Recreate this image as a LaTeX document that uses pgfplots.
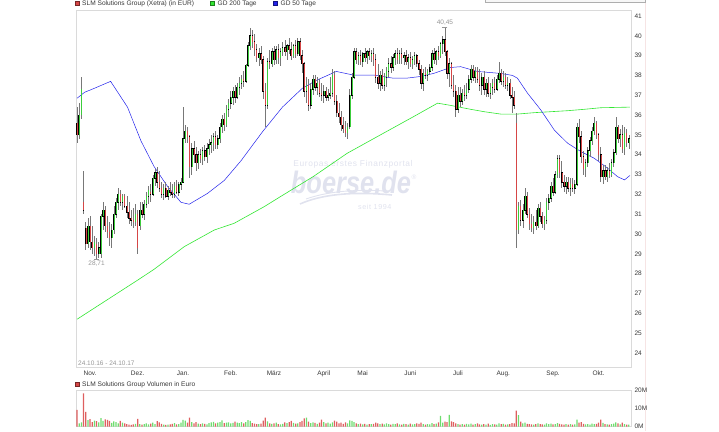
\documentclass[border=0pt]{standalone}
\usepackage{fontspec}
\setmainfont{Liberation Sans}
\usepackage{pgfplots}
\pgfplotsset{compat=1.18}
\usepackage{pgfplotstable}

\definecolor{candlegreen}{RGB}{60,205,60}
\definecolor{candlered}{RGB}{214,70,70}
\definecolor{wick}{RGB}{120,120,120}
\definecolor{gdgreen}{RGB}{50,230,50}
\definecolor{gdblue}{RGB}{35,35,235}
\definecolor{framegray}{RGB}{218,218,218}
\definecolor{ticktext}{RGB}{55,55,55}
\definecolor{softgray}{RGB}{150,150,150}
\definecolor{volgreen}{RGB}{110,220,110}
\definecolor{volred}{RGB}{222,95,95}
\definecolor{logo}{RGB}{224,226,238}
\definecolor{edgepink}{RGB}{246,228,228}

% daily OHLC (EUR) and turnover (million EUR), trading day index d
\pgfplotstableread{
d o h l c v
0 35.6 36.4 34.6 35.0 9.3
1 35.0 36.6 34.8 36.0 1.8
2 36.0 37.9 35.8 37.3 2.4
3 31.6 33.2 31.0 31.2 18.5
4 30.3 30.6 29.2 29.5 8.3
5 29.5 30.8 29.3 30.4 3.6
6 30.4 30.9 29.2 29.6 4.2
7 29.6 30.4 29.0 29.3 2.6
8 29.3 29.9 28.9 29.6 3.4
9 29.5 29.8 28.71 29.0 3.1
10 29.0 29.6 28.8 29.3 2.4
11 29.0 31.0 28.8 30.9 4.8
12 30.9 31.6 30.2 31.2 3.2
13 31.2 31.4 30.1 30.4 4.1
14 30.4 30.9 29.8 30.1 3.8
15 30.1 30.6 29.4 29.8 3.3
16 29.8 30.5 29.3 30.2 2.1
17 30.2 31.4 30.0 31.0 2.9
18 31.0 31.8 30.8 31.6 2.6
19 31.6 32.3 31.2 32.0 1.9
20 32.0 32.2 31.4 31.6 3.2
21 31.6 32.0 31.2 31.9 2.3
22 31.9 32.0 31.3 31.4 1.9
23 31.4 31.9 30.8 31.1 1.4
24 31.1 31.6 30.5 30.8 1.2
25 30.8 31.2 30.4 30.7 1.0
26 30.7 31.3 30.3 30.6 1.3
27 30.6 31.5 30.4 31.0 1.6
28 31.0 31.2 29.0 29.3 4.4
29 30.4 31.6 30.2 31.2 1.5
30 31.2 31.6 30.8 31.0 1.2
31 31.0 31.7 30.7 31.5 1.4
32 31.5 32.1 31.3 31.9 1.8
33 31.9 32.4 31.5 32.2 1.3
34 32.1 32.5 31.6 32.0 1.7
35 32.0 33.0 31.9 32.8 2.2
36 32.8 33.3 32.4 33.1 1.4
37 33.1 33.4 32.3 32.6 3.1
38 32.6 33.2 32.1 32.3 2.4
39 32.3 32.6 31.8 32.0 1.6
40 32.0 32.5 31.7 32.3 1.2
41 32.3 32.6 31.8 31.9 1.0
42 31.9 32.4 31.7 32.2 1.1
43 32.2 32.6 31.9 32.1 1.3
44 32.1 32.5 31.8 32.0 1.6
45 32.0 32.6 31.8 32.4 2.0
46 32.4 32.7 32.0 32.1 1.3
47 32.1 32.6 31.9 32.5 1.5
48 32.5 32.8 32.2 32.6 2.3
49 32.6 36.4 32.6 34.8 3.8
50 34.8 35.5 34.6 35.2 3.4
51 35.2 35.4 34.6 34.9 2.2
52 34.9 35.0 32.8 33.4 5.0
53 33.4 34.6 33.0 34.3 2.6
54 34.3 34.7 33.6 34.0 1.9
55 34.0 34.4 33.2 33.6 2.5
56 33.6 34.2 33.3 34.0 1.7
57 34.0 34.3 33.6 33.8 1.4
58 33.8 34.4 33.5 34.2 1.9
59 34.2 34.5 33.7 33.9 1.6
60 33.9 34.6 33.6 34.3 1.3
61 34.3 34.8 34.0 34.5 2.0
62 34.5 35.0 34.1 34.6 2.4
63 34.6 35.1 34.2 34.9 2.7
64 34.9 35.2 34.3 34.5 1.8
65 34.5 35.0 34.3 34.8 2.2
66 34.8 35.6 34.6 35.4 2.5
67 35.4 36.0 35.1 35.8 3.5
68 35.8 36.1 35.2 35.5 2.0
69 35.5 36.5 35.4 36.3 2.2
70 36.3 36.8 35.9 36.6 2.4
71 36.6 37.2 36.3 36.9 1.9
72 36.9 37.4 36.5 37.2 2.1
73 37.2 37.5 36.6 36.9 2.8
74 36.9 37.6 36.8 37.4 2.3
75 37.4 37.9 37.0 37.6 2.0
76 37.6 38.0 37.3 37.8 2.6
77 37.8 38.2 37.4 37.7 1.8
78 37.7 38.6 37.6 38.5 2.6
79 38.5 39.7 38.4 39.5 3.6
80 39.5 40.4 39.3 40.0 3.2
81 40.0 40.3 39.4 39.7 2.0
82 39.7 40.1 39.0 39.3 1.7
83 39.3 39.6 38.7 38.9 1.5
84 38.9 39.4 38.5 39.1 1.4
85 39.1 39.5 38.6 38.8 1.7
86 38.8 39.0 36.8 37.2 3.4
87 37.2 37.6 35.4 36.5 5.0
88 36.5 38.9 36.3 38.7 3.0
89 38.7 39.3 38.3 38.6 1.8
90 38.6 39.4 38.4 39.2 1.6
91 39.2 39.5 38.5 38.8 1.9
92 38.8 39.5 38.6 39.3 2.2
93 39.3 39.6 38.6 38.9 1.5
94 38.9 39.4 38.5 39.2 1.3
95 39.2 39.7 39.0 39.4 1.6
96 39.4 39.8 39.0 39.2 2.4
97 39.2 39.6 38.8 39.5 2.0
98 39.5 39.9 39.1 39.3 2.5
99 39.3 39.7 38.8 39.0 3.3
100 39.0 39.6 38.9 39.5 2.1
101 39.5 39.8 38.9 39.1 1.7
102 39.1 39.9 39.0 39.7 1.9
103 39.7 39.9 38.8 39.0 2.6
104 39.0 39.3 38.1 38.6 3.2
105 38.6 38.7 36.9 37.2 4.6
106 37.2 37.9 36.6 37.5 5.0
107 37.5 37.8 36.2 36.5 2.8
108 36.5 37.6 36.3 37.3 2.0
109 37.3 38.0 37.0 37.8 2.4
110 37.8 38.0 37.2 37.4 2.1
111 37.4 37.9 37.0 37.6 1.6
112 37.6 37.8 36.9 37.1 2.3
113 37.1 37.6 36.7 37.0 3.9
114 37.0 37.5 36.6 37.2 2.6
115 37.2 37.4 36.7 36.9 1.8
116 36.9 37.3 36.7 37.0 2.2
117 37.0 37.9 36.8 37.1 1.7
118 37.1 38.3 36.9 38.0 2.4
119 38.0 38.2 36.5 36.7 3.4
120 36.7 37.0 35.9 36.1 2.8
121 36.1 36.6 35.6 35.9 1.9
122 35.9 36.2 35.2 35.5 2.2
123 35.5 35.9 35.1 35.3 1.6
124 35.3 35.7 34.9 35.1 2.4
125 35.1 35.6 34.8 35.4 1.8
126 35.4 37.3 35.3 37.0 3.5
127 37.0 38.1 36.8 37.9 3.2
128 37.9 39.4 37.8 39.2 2.6
129 39.2 39.4 38.6 38.8 1.9
130 38.8 39.2 38.5 39.0 1.5
131 39.0 39.3 38.5 38.7 1.7
132 38.7 39.2 38.4 39.1 1.3
133 39.1 39.4 38.7 38.9 1.6
134 38.9 39.3 38.6 39.2 1.2
135 39.2 39.4 38.8 39.0 1.5
136 39.0 39.3 38.7 39.1 1.4
137 39.1 39.4 38.5 38.8 1.6
138 38.8 39.1 37.6 37.9 2.3
139 37.9 38.6 37.3 37.6 1.8
140 37.6 38.2 37.2 38.0 1.4
141 38.0 38.3 37.3 37.5 1.7
142 37.5 38.1 37.2 37.9 1.3
143 37.9 38.4 37.4 38.2 1.9
144 38.2 38.9 37.9 38.6 1.5
145 38.6 39.0 38.1 38.4 1.2
146 38.4 39.1 38.2 38.9 1.6
147 38.9 39.3 38.5 39.1 1.4
148 39.1 39.4 38.6 38.8 1.9
149 38.8 39.3 38.6 39.1 1.3
150 39.1 39.4 38.6 38.9 1.1
151 38.9 39.2 38.5 39.0 1.6
152 39.0 39.3 38.5 38.7 1.4
153 38.7 39.1 38.3 38.9 1.2
154 38.9 39.2 38.4 38.6 1.7
155 38.6 39.0 38.3 38.8 1.3
156 38.8 39.2 38.5 39.0 1.5
157 39.0 39.1 38.4 38.6 1.8
158 38.6 38.8 38.0 38.3 1.6
159 38.3 38.5 37.3 37.6 2.3
160 37.6 38.3 37.2 38.1 1.5
161 38.1 38.4 37.8 38.0 1.2
162 38.0 38.3 37.7 38.2 1.4
163 38.2 38.6 38.0 38.4 1.3
164 38.4 39.3 38.2 39.1 2.0
165 39.1 39.4 38.6 38.8 1.5
166 38.8 39.3 38.5 39.2 1.7
167 39.2 39.5 38.8 39.0 2.4
168 39.0 39.7 38.9 39.6 6.0
169 39.6 40.0 39.1 39.8 2.2
170 39.8 40.45 39.0 39.2 2.8
171 39.2 39.3 37.8 38.1 2.5
172 38.1 38.9 37.4 38.6 6.6
173 38.6 38.7 37.3 37.5 3.0
174 37.5 38.0 36.9 37.2 2.5
175 37.2 37.5 35.9 36.3 1.8
176 36.3 37.4 36.1 37.0 1.5
177 37.0 37.4 36.4 36.7 1.2
178 36.7 37.3 36.5 37.1 1.4
179 37.1 37.5 36.7 37.0 1.1
180 37.0 37.6 36.8 37.3 1.6
181 37.3 38.0 37.1 37.8 1.3
182 37.8 38.5 37.6 38.3 1.7
183 38.3 38.5 37.7 37.9 1.2
184 37.9 38.4 37.6 38.2 1.4
185 38.2 38.4 37.6 37.8 1.9
186 37.8 38.3 37.2 37.5 1.3
187 37.5 38.1 37.0 37.9 1.1
188 37.9 38.2 37.0 37.3 1.5
189 37.3 37.8 36.9 37.6 1.2
190 37.6 37.9 36.9 37.1 1.7
191 37.1 37.6 36.8 37.4 1.0
192 37.4 37.8 37.0 37.6 1.4
193 37.6 37.9 37.1 37.3 1.3
194 37.3 38.0 37.2 37.8 1.2
195 37.8 38.7 37.6 38.1 1.8
196 38.1 38.3 37.5 37.7 1.4
197 37.7 38.2 37.4 37.9 1.6
198 37.9 38.1 37.3 37.5 1.2
199 37.5 37.9 37.2 37.6 1.3
200 37.6 37.8 36.8 37.0 1.5
201 37.0 37.4 36.1 36.9 2.0
202 36.9 37.2 36.3 36.5 1.9
203 35.6 36.1 29.3 30.2 8.9
204 30.2 31.6 30.0 31.4 6.5
205 31.4 31.7 30.4 30.7 2.8
206 30.7 31.5 30.3 31.2 1.8
207 31.2 32.3 31.0 31.9 2.2
208 31.9 32.1 30.8 31.0 1.6
209 31.0 31.3 30.2 30.5 1.4
210 30.5 31.0 30.1 30.3 1.3
211 30.3 30.9 30.0 30.6 1.2
212 30.6 31.2 30.2 30.4 1.5
213 30.4 31.5 30.3 31.3 1.9
214 31.3 31.6 30.6 30.9 1.4
215 30.9 31.1 30.3 30.5 1.3
216 30.5 30.9 30.2 30.7 1.1
217 30.7 31.8 30.5 31.6 1.8
218 31.6 32.0 31.2 31.8 1.4
219 31.8 32.6 31.6 32.4 1.7
220 32.4 32.8 31.9 32.1 1.3
221 32.1 33.2 32.0 33.0 1.5
222 33.0 34.0 32.8 33.8 2.0
223 33.8 34.0 32.8 33.1 1.6
224 33.1 33.7 32.3 32.6 1.3
225 32.6 33.0 32.1 32.4 1.1
226 32.4 32.9 32.0 32.6 1.5
227 32.6 32.9 32.1 32.3 1.2
228 32.3 32.8 31.9 32.5 1.4
229 32.5 32.8 32.1 32.3 1.1
230 32.3 32.7 32.0 32.5 1.3
231 32.5 35.6 32.4 35.4 3.9
232 35.4 35.8 34.6 34.9 2.2
233 34.9 35.2 33.6 33.9 2.6
234 33.9 34.2 33.0 33.3 1.6
235 33.3 33.8 32.9 33.6 1.3
236 33.6 34.4 33.4 34.2 1.5
237 34.2 34.9 33.9 34.7 1.2
238 34.7 35.4 34.5 35.2 1.7
239 35.2 35.9 35.0 35.6 1.4
240 35.6 35.7 34.8 35.0 1.6
241 35.0 35.1 33.7 34.0 2.3
242 34.0 34.4 32.6 32.9 4.0
243 32.9 33.5 32.5 33.2 2.1
244 33.2 33.5 32.7 32.9 1.5
245 32.9 33.4 32.6 33.2 1.3
246 33.2 33.6 32.8 33.0 1.2
247 33.0 33.8 32.9 33.6 1.5
248 33.6 34.3 33.4 34.1 1.7
249 34.1 35.9 34.0 35.4 2.4
250 35.4 35.5 34.6 34.8 1.9
251 34.8 35.3 34.4 35.0 1.3
252 35.0 35.5 34.1 34.3 2.2
253 34.3 35.4 34.0 35.1 1.5
254 35.1 35.3 34.4 34.6 1.2
255 34.6 35.0 34.3 34.8 1.1
}\slm

% 200-day moving average
\pgfplotstableread{
d gd
0 25.70
28.1 27.68
35.6 28.22
49.5 29.36
63.4 30.20
72.6 30.54
86.5 31.38
93.9 31.88
109.2 32.90
124.8 34.07
140.2 35.00
155.5 35.92
166.6 36.60
172.0 36.50
181.9 36.29
188.1 36.17
195.8 36.05
203.5 36.05
211.2 36.12
219.0 36.17
226.7 36.22
234.4 36.29
242.1 36.37
255.5 36.40
}\gdtwohundred

% 50-day moving average
\pgfplotstableread{
d gd
0 36.85
3.5 37.15
8.0 37.35
15.5 37.70
23.3 36.40
29.5 34.70
35.6 33.40
41.8 32.40
48.0 31.60
51.8 31.50
60.3 32.05
68.0 32.70
75.8 33.70
81.9 34.60
86.0 35.20
94.9 36.40
104.1 37.35
110.6 37.75
119.8 38.20
127.6 38.02
136.9 38.02
146.1 37.86
152.2 37.86
158.3 37.94
164.8 38.10
172.6 38.40
177.3 38.44
185.0 38.20
195.8 38.10
201.2 38.00
203.5 37.86
208.2 37.10
214.3 36.26
220.5 35.25
226.7 34.58
232.8 34.16
239.0 33.82
245.2 33.32
249.8 32.89
253.0 32.73
255.5 32.95
}\gdfifty

% vertical bar drawn as symmetric error bar: #1 width, #2 colour, #3 shift
\pgfplotsset{
  candle bar/.style n args={3}{draw=none, mark=none, forget plot,
    error bars/y dir=both, error bars/y explicit, error bars/error mark=none,
    error bars/error bar style={draw=#2, line width=#1, xshift=#3}},
}

\begin{document}
\begin{tikzpicture}
\path[use as bounding box] (0pt,0pt) rectangle (719pt,431pt);

% watermark
\node[text=logo, inner sep=0pt, font=\fontsize{8.4}{9}\selectfont\addfontfeatures{LetterSpace=7}] at (353pt,267pt) {Europas erstes Finanzportal};
\node[text=logo, font=\fontsize{31}{31}\selectfont\bfseries\itshape, anchor=base, xscale=0.82, inner sep=0] at (351pt,237pt) {boerse.de};
\node[text=logo, font=\fontsize{6.5}{7}\selectfont, inner sep=0pt] at (414pt,254pt) {®};
\node[text=logo, font=\fontsize{7.2}{8}\selectfont\addfontfeatures{LetterSpace=8}, anchor=east] at (395pt,224pt) {seit 1994};
\draw[logo, line width=1.6pt] (300pt,227pt) .. controls (320pt,236pt) and (350pt,240pt) .. (392pt,236pt);
\draw[logo, line width=0.9pt] (306pt,232pt) .. controls (326pt,239pt) and (352pt,242pt) .. (385pt,240pt);

% frame decorations
\draw[edgepink, line width=0.7pt] (645pt,0pt) -- (645pt,431pt);
\draw[framegray!80!black, fill=gray!6, line width=0.5pt] (485pt,428.5pt) rectangle (645pt,440pt);

% price panel
\begin{axis}[
  at={(76pt,64pt)}, anchor=south west,
  scale only axis, width=555pt, height=357pt,
  xmin=-0.5, xmax=256, ymin=23.29, ymax=41.30,
  axis line style={framegray, line width=0.6pt},
  tick style={draw=none},
  ytick={24,25,...,41}, yticklabel pos=right,
  xtick={6,28,49,71,91,114,132,154,176,197,220,241},
  xticklabels={Nov.,Dez.,Jan.,Feb.,März,April,Mai,Juni,Juli,Aug.,Sep.,Okt.},
  tick label style={font=\fontsize{6.5}{7}\selectfont, text=ticktext},
  /pgf/number format/assume math mode=true,
]
\addplot[gdgreen, line width=0.6pt, forget plot] table[x=d, y=gd] {\gdtwohundred};
\addplot[gdblue, line width=0.5pt, forget plot] table[x=d, y=gd] {\gdfifty};

% wicks
\addplot[candle bar={0.6pt}{wick}{0pt}]
  table[x=d, y expr={(\thisrow{h}+\thisrow{l})/2}, y error expr={(\thisrow{h}-\thisrow{l})/2}] {\slm};
% bodies: dark outline with coloured core
\addplot[candle bar={1.6pt}{black}{0pt}]
  table[x=d, y expr={(\thisrow{o}+\thisrow{c})/2}, y error expr={abs(\thisrow{c}-\thisrow{o})/2+0.02}] {\slm};
\addplot[candle bar={1.0pt}{candlegreen}{0.3pt},
  restrict expr to domain={\thisrow{c}-\thisrow{o}}{0:100}]
  table[x=d, y expr={(\thisrow{o}+\thisrow{c})/2}, y error expr={abs(\thisrow{c}-\thisrow{o})/2}] {\slm};
\addplot[candle bar={1.0pt}{candlered}{0.3pt},
  restrict expr to domain={\thisrow{c}-\thisrow{o}}{-100:-0.001}]
  table[x=d, y expr={(\thisrow{o}+\thisrow{c})/2}, y error expr={abs(\thisrow{c}-\thisrow{o})/2}] {\slm};

% period extremes
\addplot[softgray, mark=-, mark size=2.5pt, forget plot] coordinates {(9,28.71)}
  node[below, font=\fontsize{6.5}{7}\selectfont, text=softgray, inner sep=1pt] {28,71};
\addplot[softgray, mark=-, mark size=2.5pt, forget plot] coordinates {(170,40.45)}
  node[above, font=\fontsize{6.5}{7}\selectfont, text=softgray, inner sep=1pt] {40,45};

\node[anchor=south west, font=\fontsize{6.5}{7}\selectfont, text=softgray, inner sep=0pt]
  at (rel axis cs:0,0) [xshift=2pt, yshift=1.5pt] {24.10.16 - 24.10.17};
\end{axis}

% volume panel
\begin{axis}[
  at={(76pt,4.3pt)}, anchor=south west,
  scale only axis, width=555pt, height=36pt,
  xmin=-0.5, xmax=256, ymin=0, ymax=20,
  axis line style={framegray, line width=0.6pt},
  tick style={draw=none},
  xtick=\empty,
  ytick={0,10,20}, yticklabels={0M,10M,20M}, yticklabel pos=right,
  tick label style={font=\fontsize{6.5}{7}\selectfont, text=ticktext},
]
\addplot[ybar, bar width=1.25pt, bar shift=0pt, fill=volgreen, draw=none,
  restrict expr to domain={\thisrow{c}-\thisrow{o}}{0:100}] table[x=d, y=v] {\slm};
\addplot[ybar, bar width=1.25pt, bar shift=0pt, fill=volred, draw=none,
  restrict expr to domain={\thisrow{c}-\thisrow{o}}{-100:-0.001}] table[x=d, y=v] {\slm};
\end{axis}

% legends
\filldraw[fill=candlered, draw=candlered!55!black, line width=0.4pt] (75.5pt,425.6pt) rectangle (79.5pt,429.6pt);
\node[anchor=west, inner sep=0pt, font=\fontsize{6.6}{7}\selectfont, text=ticktext] at (82pt,427.4pt) {SLM Solutions Group (Xetra) (in EUR)};
\filldraw[fill=gdgreen, draw=gdgreen!55!black, line width=0.4pt] (210.5pt,425.6pt) rectangle (214.5pt,429.6pt);
\node[anchor=west, inner sep=0pt, font=\fontsize{6.6}{7}\selectfont, text=ticktext] at (217.5pt,427.4pt) {GD 200 Tage};
\filldraw[fill=gdblue, draw=gdblue!55!black, line width=0.4pt] (273.5pt,425.6pt) rectangle (277.5pt,429.6pt);
\node[anchor=west, inner sep=0pt, font=\fontsize{6.6}{7}\selectfont, text=ticktext] at (280.5pt,427.4pt) {GD 50 Tage};

\filldraw[fill=candlered, draw=candlered!55!black, line width=0.4pt] (75.5pt,44.6pt) rectangle (79.5pt,48.6pt);
\node[anchor=west, inner sep=0pt, font=\fontsize{6.6}{7}\selectfont, text=ticktext] at (82pt,46.5pt) {SLM Solutions Group Volumen in Euro};
\end{tikzpicture}
\end{document}
